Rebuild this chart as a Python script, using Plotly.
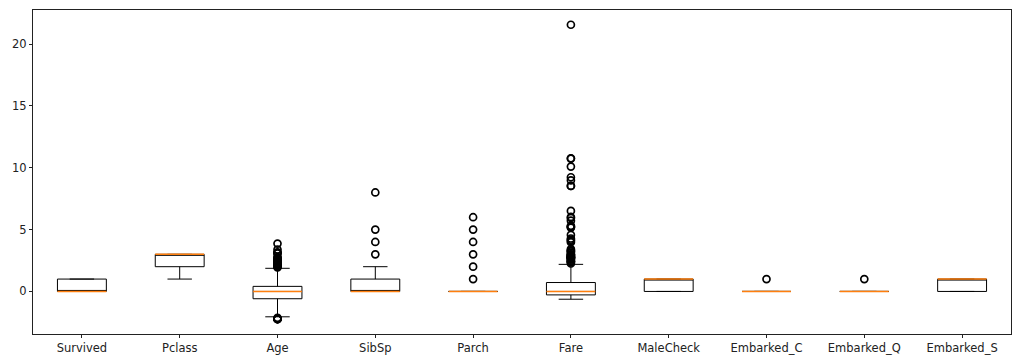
import plotly.graph_objects as go

categories = ["Survived", "Pclass", "Age", "SibSp", "Parch", "Fare",
              "MaleCheck", "Embarked_C", "Embarked_Q", "Embarked_S"]
q1 = [0, 2, -0.59, 0, 0, -0.28, 0, 0, 0, 0]
median = [0, 3, 0.0, 0, 0, 0.0, 1, 0, 0, 1]
q3 = [1, 3, 0.41, 1, 0, 0.72, 1, 0, 0, 1]
lower_whisker = [0, 1, -2.05, 0, 0, -0.63, 0, 0, 0, 0]
upper_whisker = [1, 3, 1.87, 2, 0, 2.19, 1, 0, 0, 1]

age_outliers = [1.95, 1.98, 2.02, 2.10, 2.18, 2.25, 2.33, 2.41, 2.48, 2.56,
                2.64, 2.72, 2.79, 3.08, 3.12, 3.16, 3.39, 3.87,
                -2.25, -2.23, -2.23, -2.22, -2.21, -2.21, -2.13]
sibsp_outliers = [3, 4, 5, 8]
parch_outliers = [1, 2, 3, 4, 5, 6]
fare_outliers = [2.26, 2.38, 2.39, 2.45, 2.46, 2.56, 2.63, 2.68, 2.70, 2.72,
                 2.75, 2.76, 2.79, 2.80, 2.82, 2.92, 2.93, 2.98, 2.99, 3.12,
                 3.23, 3.27, 3.32, 3.42, 3.98, 4.09, 4.18, 4.28, 4.57, 5.16,
                 5.20, 5.25, 5.30, 5.72, 5.94, 6.02, 6.51, 8.53, 8.53, 8.98,
                 9.23, 10.09, 10.74, 10.76, 21.56]
embarked_c_outliers = [1]
embarked_q_outliers = [1]

outliers = {
    "Age": age_outliers,
    "SibSp": sibsp_outliers,
    "Parch": parch_outliers,
    "Fare": fare_outliers,
    "Embarked_C": embarked_c_outliers,
    "Embarked_Q": embarked_q_outliers,
}

positions = list(range(1, len(categories) + 1))
box_w = 0.5

fig = go.Figure()
fig.add_trace(go.Box(
    x=positions, q1=q1, median=median, q3=q3,
    lowerfence=lower_whisker, upperfence=upper_whisker,
    width=box_w, whiskerwidth=0.5,
    line=dict(color="black", width=1), fillcolor="rgba(0,0,0,0)",
    boxpoints=False, showlegend=False, hoverinfo="skip",
))

mx, my = [], []
for p, m in zip(positions, median):
    mx += [p - box_w / 2, p + box_w / 2, None]
    my += [m, m, None]
fig.add_trace(go.Scatter(x=mx, y=my, mode="lines",
                         line=dict(color="#ff7f0e", width=1.5),
                         showlegend=False, hoverinfo="skip"))

ox, oy = [], []
for p, c in zip(positions, categories):
    for v in outliers.get(c, []):
        ox.append(p)
        oy.append(v)
fig.add_trace(go.Scatter(x=ox, y=oy, mode="markers",
                         marker=dict(symbol="circle-open", size=7, color="black",
                                     line=dict(width=1.7, color="black")),
                         showlegend=False, hoverinfo="skip"))

all_vals = lower_whisker + upper_whisker + oy
lo, hi = min(all_vals), max(all_vals)
pad = (hi - lo) * 0.05

fig.update_layout(
    width=1024, height=362,
    margin=dict(l=25, r=21, t=2, b=36),
    plot_bgcolor="white", paper_bgcolor="white",
    font=dict(family="DejaVu Sans", size=11.5, color="#222"),
    xaxis=dict(range=[0.5, len(categories) + 0.5], tickvals=positions,
               ticktext=categories, showgrid=False, zeroline=False,
               showline=True, mirror=True, linecolor="#222", linewidth=1,
               ticks="outside", ticklen=3, tickcolor="#222"),
    yaxis=dict(range=[lo - pad, hi + pad], tickvals=[0, 5, 10, 15, 20],
               showgrid=False, zeroline=False,
               showline=True, mirror=True, linecolor="#222", linewidth=1,
               ticks="outside", ticklen=3, tickcolor="#222"),
)

fig.write_html("out.html")
